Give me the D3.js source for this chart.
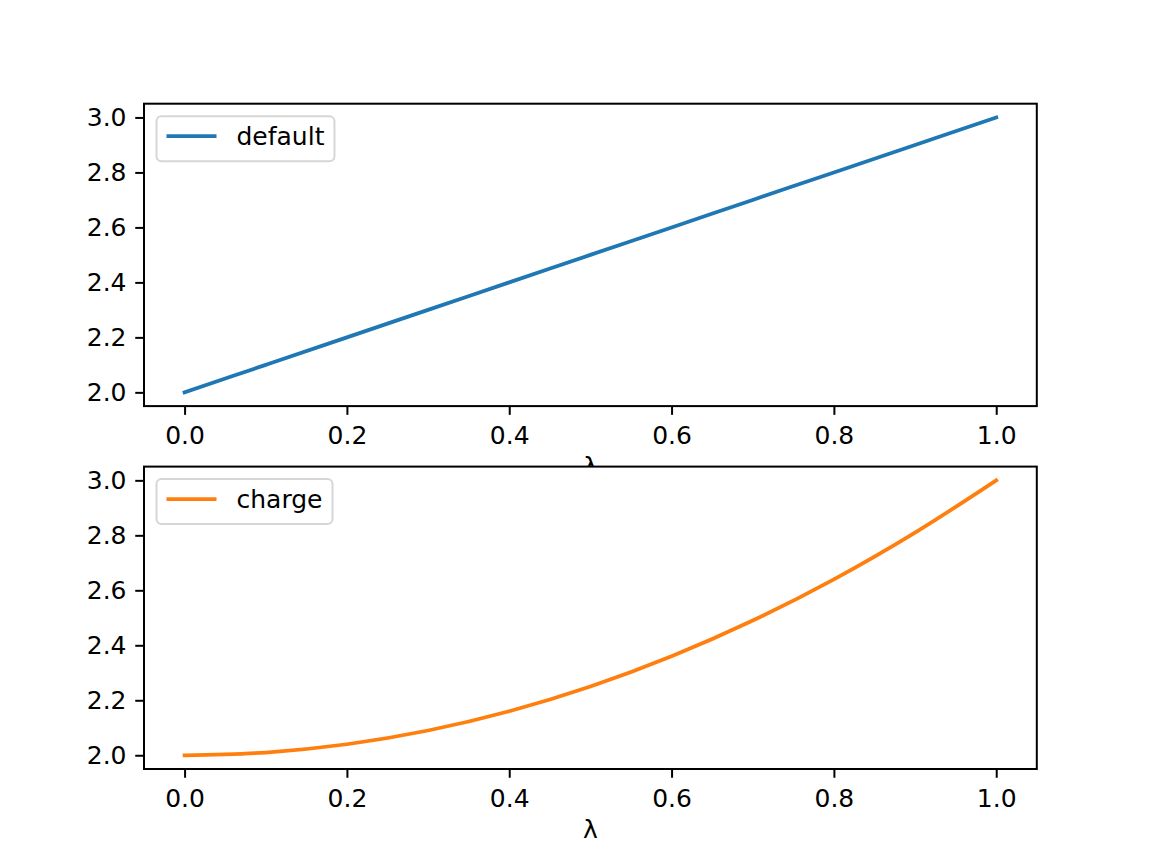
<!DOCTYPE html>
<html>
<head>
<meta charset="utf-8">
<script src="https://cdn.jsdelivr.net/npm/d3@7"></script>
<style>
body { margin:0; background:white; }
text { font-family:"DejaVu Sans", sans-serif; }
</style>
</head>
<body>
<div id="chart"></div>
<script>

// Data

var lambdas = [0.0,0.1,0.2,0.3,0.4,0.5,0.6,0.7,0.8,0.9,1.0];
var defaultVals = [2.0,2.1,2.2,2.3,2.4,2.5,2.6,2.7,2.8,2.9,3.0];
var chargeVals = [2.0,2.01,2.04,2.09,2.16,2.25,2.36,2.49,2.64,2.81,3.0];
var xTicks = [0.0,0.2,0.4,0.6,0.8,1.0];
var yTicks = [2.0,2.2,2.4,2.6,2.8,3.0];
var seriesNames = ["default","charge"];
var seriesColors = ["#1f77b4","#ff7f0e"];
var xLabel = "\u03bb";

// Layout

var W = 1152, H = 864,
	left = 144, right = 1036.8,
	axH = 302.4,
	tops = [103.7, 466.6],
	fs = 25, tickLen = 8.75;

var svg = d3.select("#chart").append("svg")
	.attr("width",W).attr("height",H);

svg.append("rect").attr("width",W).attr("height",H).attr("fill","white");

var X = d3.scaleLinear().domain([-0.05,1.05]).range([left,right]);

function panel(k, vals){
	var top = tops[k], bottom = top+axH;
	var Y = d3.scaleLinear().domain([1.95,3.05]).range([bottom,top]);

	var g = svg.append("g");

	// axes background covers anything beneath (e.g. previous xlabel)
	g.append("rect").attr("x",left).attr("y",top).attr("width",right-left).attr("height",axH)
		.attr("fill","white");

	var line = d3.line()
		.x(function(d,i){return X(lambdas[i])})
		.y(function(d){return Y(d)})
		.curve(d3.curveCatmullRom);

	g.append("path").datum(vals).attr("d",line)
		.style("fill","none").style("stroke",seriesColors[k]).style("stroke-width",3.75)
		.style("stroke-linecap","square");

	// spines
	g.append("rect").attr("x",left).attr("y",top).attr("width",right-left).attr("height",axH)
		.style("fill","none").style("stroke","black").style("stroke-width",2);

	// x axis
	var xa = g.append("g").attr("transform","translate(0,"+bottom+")")
		.call(d3.axisBottom(X).tickValues(xTicks).tickFormat(d3.format(".1f")).tickSize(tickLen).tickPadding(11.5));
	xa.select(".domain").remove();
	xa.selectAll("line").style("stroke","black").style("stroke-width",2);
	xa.selectAll("text").style("font-size",fs+"px").style("font-family","DejaVu Sans").attr("fill","black");

	// y axis
	var ya = g.append("g").attr("transform","translate("+left+",0)")
		.call(d3.axisLeft(Y).tickValues(yTicks).tickFormat(d3.format(".1f")).tickSize(tickLen).tickPadding(8.75));
	ya.select(".domain").remove();
	ya.selectAll("line").style("stroke","black").style("stroke-width",2);
	ya.selectAll("text").style("font-size",fs+"px").style("font-family","DejaVu Sans").attr("fill","black");

	// xlabel
	g.append("text").attr("x",(left+right)/2).attr("y",bottom+69)
		.attr("text-anchor","middle").style("font-size",fs+"px").text(xLabel);

	// legend
	var lx = left+12.5, ly = top+12.5;
	var leg = g.append("g");
	var lbl = leg.append("text").attr("x",lx+10+50+20).attr("y",ly+29)
		.style("font-size",fs+"px").text(seriesNames[k]);
	var tw = lbl.node().getComputedTextLength();
	leg.insert("rect","text").attr("x",lx).attr("y",ly).attr("width",10+50+20+tw+10).attr("height",45)
		.attr("rx",5).attr("ry",5)
		.style("fill","white").style("fill-opacity",0.8)
		.style("stroke","#d6d6d6").style("stroke-width",2);
	leg.insert("line","text").attr("x1",lx+10).attr("x2",lx+60).attr("y1",ly+20).attr("y2",ly+20)
		.style("stroke",seriesColors[k]).style("stroke-width",3.75);
}

panel(0, defaultVals);
panel(1, chargeVals);

</script>
</body>
</html>
